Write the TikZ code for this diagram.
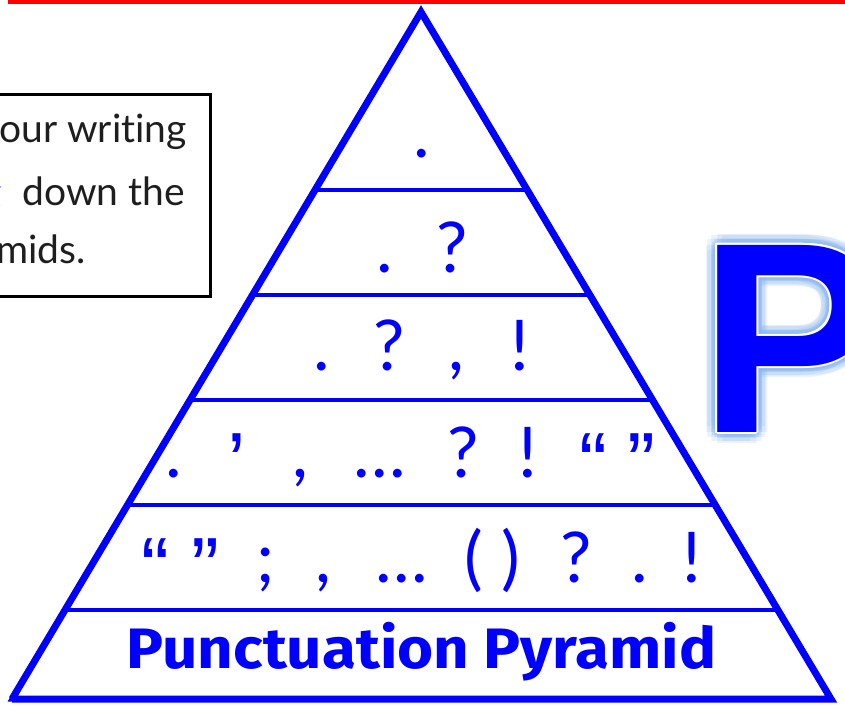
\documentclass[tikz,border=0pt]{standalone}
\usepackage{fontspec}
\setmainfont{Lato}[Ligatures=NoCommon]
\newfontfamily\titlefont{Fira Sans}
\newfontfamily\bigfont{Liberation Sans}
\usetikzlibrary{calc}
\definecolor{pblue}{RGB}{0,0,255}
\definecolor{glowblue}{RGB}{140,185,240}
\definecolor{boxink}{RGB}{30,30,30}
\begin{document}
\begin{tikzpicture}[x=1pt,y=-1pt,
  tri/.style={draw=pblue, line width=5pt, line join=miter},
  rowline/.style={draw=pblue, line width=4pt},
  pu/.style={text=pblue, font=\fontsize{70}{70}\selectfont, inner sep=0pt, anchor=base},
  qu/.style={pu, font=\bigfont\fontsize{84}{84}\selectfont},
  boxtxt/.style={text=boxink, font=\fontsize{39}{39}\selectfont, inner sep=0pt, anchor=base east},
  bigP/.style={inner sep=0pt, anchor=base west, font=\bigfont\bfseries\fontsize{272}{272}\selectfont}]
\useasboundingbox (0,0) rectangle (845,706);
\clip (0,0) rectangle (845,706);
\fill[white] (0,0) rectangle (845,706);
% red rule on top
\draw[red, line width=4pt] (8,2) -- (850,2);
% pyramid
\coordinate (A) at (421,12);
\coordinate (BL) at (12,699);
\coordinate (BR) at (831,699);
\draw[tri] (A) -- (BL) -- (BR);
\draw[draw=pblue, line width=7pt, line join=miter] (BL) -- (BR) -- (A) -- (BL);
\foreach \i/\t in {1/0.2591,2/0.4119,3/0.5648,4/0.7176,5/0.8705}{
  \coordinate (L\i) at ($(A)!\t!(BL)$);
  \coordinate (R\i) at ($(A)!\t!(BR)$);
  \draw[rowline] (L\i) -- (R\i);
}
% row 1
\node[pu] (r1a) at (422,157) {.};
% row 2
\node[pu] (r2a) at (385,272) {.};
\node[pu] (r2b) at (452,272) {?};
% row 3
\node[pu] (r3a) at (322,370) {.};
\node[pu] (r3b) at (389,370) {?};
\node[pu] (r3c) at (456,370) {,};
\node[pu] (r3d) at (520,370) {!};
% row 4
\node[pu] (r4a) at (174,477) {.};
\node[qu] (r4b) at (237,491) {’};
\node[pu] (r4c) at (300,477) {,};
\node[pu] (r4d) at (380,477) {…};
\node[pu] (r4e) at (463,477) {?};
\node[pu] (r4f) at (528,477) {!};
\node[qu] (r4g) at (593,491) {“};
\node[qu] (r4h) at (641,491) {”};
% row 5
\node[qu] (r5a) at (155,596) {“};
\node[qu] (r5b) at (205,596) {”};
\node[pu] (r5c) at (266,582) {;};
\node[pu] (r5d) at (323,582) {,};
\node[pu] (r5e) at (402,582) {…};
\node[pu] (r5f) at (474,582) {(};
\node[pu] (r5g) at (511,582) {)};
\node[pu] (r5h) at (576,582) {?};
\node[pu] (r5i) at (640,582) {.};
\node[pu] (r5j) at (692,582) {!};
% title
\node[text=pblue, inner sep=0pt, anchor=base, font=\titlefont\bfseries\fontsize{57}{57}\selectfont] (title) at (421.5,668) {\scalebox{1.085}[1]{Punctuation Pyramid}};
% text box
\node[draw=black, line width=3pt, inner sep=0pt, minimum width=232pt, minimum height=202pt, anchor=north east] (box) at (212,93) {};
\node[boxtxt] (t1) at (187,142) {our writing};
\node[boxtxt] (t2) at (185,205) {down the};
\node[boxtxt, text=pblue] (t2g) at (2,205) {g};
\node[boxtxt] (t3) at (86,263) {mids.};
% big glowing P
\foreach \a in {0,30,...,330}{
  \node[bigP, text=glowblue, opacity=0.18] (ga\a) at ($(699,432)+(\a:11)$) {P};
  \node[bigP, text=glowblue, opacity=0.3] (gb\a) at ($(699,432)+(\a:6)$) {P};
}
\foreach \a in {0,45,...,315}{
  \node[bigP, text=white] (gw\a) at ($(699,432)+(\a:2)$) {P};
}
\node[bigP, text=pblue] (bigp) at (699,432) {P};
\end{tikzpicture}
\end{document}
